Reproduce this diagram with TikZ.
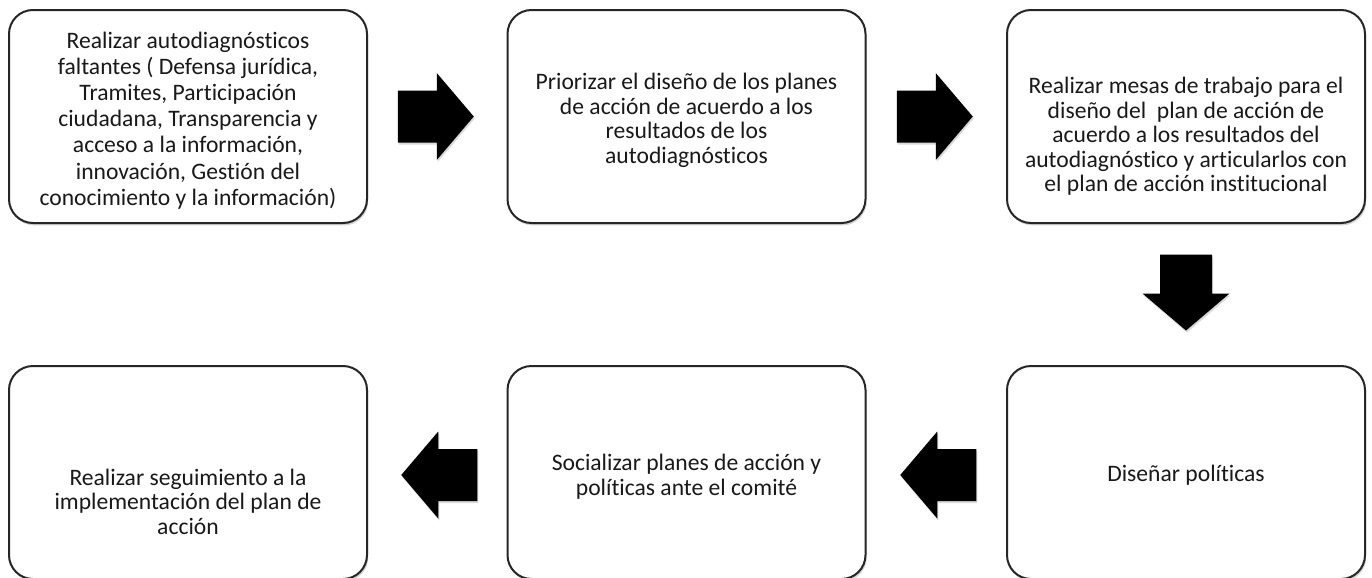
\documentclass[tikz,border=0pt]{standalone}
\usepackage{fontspec}
\setmainfont{Carlito}[Ligatures=NoCommon]
\usetikzlibrary{calc,shadows}
\tikzset{
  box/.style={draw=black!85, line width=1pt, rounded corners=12pt, fill=white,
    minimum width=179pt, minimum height=106.5pt, inner sep=0pt,
    drop shadow={shadow xshift=0.6pt, shadow yshift=-1.2pt, opacity=0.35, fill=black!50}},
  txt/.style={align=center, font=\fontsize{11.8}{12.3}\selectfont, inner sep=0pt, text=black!90},
  barrow/.style={fill=black,
    drop shadow={shadow xshift=0.5pt, shadow yshift=-1pt, opacity=0.3, fill=black!50}}
}
\newcommand{\blockarr}[2]{%
  \path[barrow, shift={#1}, rotate=#2]
    (-38,-26) -- (1,-26) -- (1,-43.5) -- (38,0) -- (1,43.5) -- (1,26) -- (-38,26) -- cycle;}
\begin{document}
\begin{tikzpicture}[x=0.5pt,y=-0.5pt]
\useasboundingbox (0,0) rectangle (1372,578);
% boxes
\node[box] (b1) at (188,116.5) {};
\node[box] (b2) at (686.5,116.5) {};
\node[box] (b3) at (1186,116.5) {};
\node[box] (b4) at (1186,472.5) {};
\node[box] (b5) at (686.5,472.5) {};
\node[box] (b6) at (188,472.5) {};
% texts
\node[txt, font=\fontsize{11.8}{13.1}\selectfont] (t1) at ($(b1.center)+(0,4)$) {Realizar autodiagnósticos\\faltantes ( Defensa jurídica,\\Tramites, Participación\\ciudadana, Transparencia y\\acceso a la información,\\innovación, Gestión del\\conocimiento y la información)};
\node[txt] (t2) at ($(b2.center)+(0,4)$) {Priorizar el diseño de los planes\\de acción de acuerdo a los\\resultados de los\\autodiagnósticos};
\node[txt] (t3) at ($(b3.center)+(0,20)$) {Realizar mesas de trabajo para el\\diseño del\ \ plan de acción de\\acuerdo a los resultados del\\autodiagnóstico y articularlos con\\el plan de acción institucional};
\node[txt] (t4) at ($(b4.center)+(0,3)$) {Diseñar políticas};
\node[txt] (t5) at ($(b5.center)+(0,4)$) {Socializar planes de acción y\\políticas ante el comité};
\node[txt] (t6) at ($(b6.center)+(0,29)$) {Realizar seguimiento a la\\implementación del plan de\\acción};
% block arrows
\blockarr{($(b1.east)!0.5!(b2.west)+(-1.5,0)$)}{0}
\blockarr{($(b2.east)!0.5!(b3.west)+(-1.5,0)$)}{0}
\blockarr{($(b3.south)!0.5!(b4.north)+(0,-2)$)}{-90}
\blockarr{($(b4.west)!0.5!(b5.east)+(2,2.5)$)}{180}
\blockarr{($(b5.west)!0.5!(b6.east)+(2,2.5)$)}{180}
\end{tikzpicture}
\end{document}
